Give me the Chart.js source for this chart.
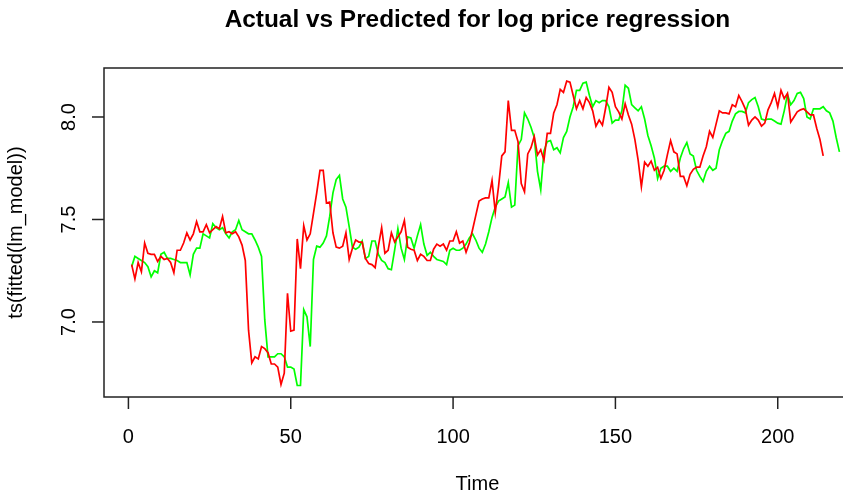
<!DOCTYPE html>
<html>
<head>
<meta charset="utf-8">
<script src="https://cdn.jsdelivr.net/npm/chart.js@4/dist/chart.umd.min.js"></script>
<style>
  html, body { margin: 0; padding: 0; background: #fff; }
  #wrap { width: 843px; height: 498px; }
</style>
</head>
<body>
<div id="wrap"><canvas id="c" width="843" height="498"></canvas></div>
<script>
// valeurs (t = 1, 2, 3, ...)
const actual = [
  7.28, 7.21, 7.29, 7.245, 7.385, 7.335, 7.33, 7.33, 7.295, 7.32,
  7.305, 7.31, 7.29, 7.24, 7.35, 7.35, 7.385, 7.435, 7.40, 7.43,
  7.49, 7.44, 7.44, 7.475, 7.435, 7.45, 7.465, 7.455, 7.515, 7.435,
  7.44, 7.43, 7.44, 7.415, 7.375, 7.30, 6.96, 6.80, 6.83, 6.82,
  6.88, 6.87, 6.85, 6.795, 6.795, 6.78, 6.695, 6.75, 7.14, 6.955,
  6.96, 7.405, 7.26, 7.47, 7.40, 7.43, 7.53, 7.63, 7.74, 7.74,
  7.58, 7.585, 7.435, 7.365, 7.36, 7.37, 7.435, 7.305, 7.36, 7.40,
  7.39, 7.39, 7.31, 7.285, 7.28, 7.265, 7.37, 7.46, 7.335, 7.35,
  7.435, 7.39, 7.415, 7.44, 7.495, 7.365, 7.355, 7.35, 7.30, 7.33,
  7.32, 7.30, 7.30, 7.355, 7.38, 7.37, 7.38, 7.35, 7.395, 7.395,
  7.44, 7.385, 7.395, 7.34, 7.385, 7.45, 7.52, 7.59, 7.60, 7.605,
  7.605, 7.69, 7.535, 7.66, 7.81, 7.83, 8.08, 7.935, 7.935, 7.88,
  7.675, 7.635, 7.82, 7.85, 7.905, 7.815, 7.84, 7.79, 7.92, 7.92,
  8.02, 8.06, 8.135, 8.12, 8.175, 8.17, 8.105, 8.04, 8.08, 8.04,
  8.095, 8.07, 8.03, 7.955, 7.985, 7.96, 8.045, 8.145, 8.12, 8.05,
  8.025, 7.99, 8.065, 8.01, 7.965, 7.89, 7.79, 7.66, 7.78, 7.76,
  7.785, 7.74, 7.755, 7.70, 7.74, 7.815, 7.885, 7.83, 7.82, 7.71,
  7.71, 7.665, 7.72, 7.745, 7.755, 7.755, 7.81, 7.855, 7.93, 7.90,
  7.965, 8.03, 8.02, 8.02, 8.015, 8.06, 8.05, 8.105, 8.075, 8.04,
  7.96, 7.985, 8.0, 7.985, 7.955, 7.97, 8.035, 8.07, 8.115, 8.05,
  8.13, 8.09, 8.115, 7.975, 8.0, 8.025, 8.035, 8.04, 8.025, 8.01,
  8.01, 7.945, 7.89, 7.81
];

const predicted = [
  7.27, 7.32, 7.31, 7.30, 7.29, 7.27, 7.22, 7.25, 7.24, 7.33,
  7.34, 7.31, 7.31, 7.305, 7.30, 7.29, 7.29, 7.29, 7.23, 7.33,
  7.36, 7.36, 7.43, 7.42, 7.41, 7.48, 7.46, 7.45, 7.46, 7.43,
  7.41, 7.44, 7.45, 7.495, 7.45, 7.44, 7.43, 7.43, 7.40, 7.365,
  7.32, 7.01, 6.83, 6.83, 6.83, 6.845, 6.845, 6.83, 6.78, 6.78,
  6.77, 6.69, 6.69, 7.06, 7.025, 6.88, 7.305, 7.37, 7.365, 7.385,
  7.42, 7.515, 7.63, 7.695, 7.715, 7.60, 7.56, 7.465, 7.365, 7.355,
  7.365, 7.395, 7.31, 7.32, 7.395, 7.395, 7.33, 7.30, 7.29, 7.26,
  7.255, 7.35, 7.455, 7.36, 7.305, 7.415, 7.41, 7.36, 7.42, 7.475,
  7.38, 7.325, 7.34, 7.32, 7.305, 7.30, 7.295, 7.28, 7.35, 7.36,
  7.35, 7.35, 7.36, 7.38, 7.41, 7.43, 7.40, 7.36, 7.34, 7.38,
  7.44, 7.51, 7.56, 7.59, 7.60, 7.61, 7.68, 7.56, 7.57, 7.86,
  7.89, 8.02, 7.99, 7.95, 7.90, 7.735, 7.645, 7.835, 7.88, 7.885,
  7.84, 7.85, 7.825, 7.90, 7.93, 8.0, 8.05, 8.13, 8.13, 8.165,
  8.17, 8.105, 8.05, 8.08, 8.07, 8.08, 8.08, 8.05, 7.97, 7.985,
  7.985, 8.03, 8.155, 8.14, 8.06, 8.045, 8.03, 8.05, 7.99, 7.91,
  7.86, 7.80, 7.70, 7.75, 7.76, 7.76, 7.735, 7.75, 7.735, 7.80,
  7.845, 7.875, 7.82, 7.81, 7.74, 7.71, 7.685, 7.735, 7.76, 7.74,
  7.75, 7.84, 7.885, 7.92, 7.93, 7.98, 8.015, 8.027, 8.027, 8.02,
  8.07, 8.085, 8.095, 8.05, 7.99, 7.985, 7.99, 7.99, 7.98, 7.97,
  7.965, 8.03, 8.11, 8.06, 8.08, 8.115, 8.12, 8.09, 8.0, 7.99,
  8.04, 8.04, 8.04, 8.05, 8.03, 8.02, 7.98, 7.90, 7.83
];

const xTicks = [0, 50, 100, 150, 200];
const yTicks = [7.0, 7.5, 8.0];
const yTickLabels = ["7.0", "7.5", "8.0"];

const titre = "Actual vs Predicted for log price regression";
const xTitre = "Time";
const yTitre = "ts(fitted(lm_model))";

const toPoints = arr => arr.map((v, i) => ({ x: i + 1, y: v }));

// axes façon R (boîte, ticks vers l'extérieur, étiquettes tournées)
const axesR = {
  id: "axesR",
  afterDraw(chart) {
    const ctx = chart.ctx;
    const a = chart.chartArea;
    const sx = chart.scales.x;
    const sy = chart.scales.y;
    const right = sx.getPixelForValue(222.52); // la boîte dépasse à droite

    ctx.save();
    ctx.strokeStyle = "#222";
    ctx.lineWidth = 1.5;
    ctx.strokeRect(a.left, a.top, right - a.left, a.bottom - a.top);

    ctx.fillStyle = "#000";
    ctx.font = "20px 'Liberation Sans', Arial, sans-serif";

    // x
    ctx.textAlign = "center";
    ctx.textBaseline = "alphabetic";
    for (const t of xTicks) {
      const px = sx.getPixelForValue(t);
      ctx.beginPath();
      ctx.moveTo(px, a.bottom);
      ctx.lineTo(px, a.bottom + 12);
      ctx.stroke();
      ctx.fillText(String(t), px, 443);
    }
    ctx.fillText(xTitre, (a.left + right) / 2, 490);

    // y
    yTicks.forEach((t, i) => {
      const py = sy.getPixelForValue(t);
      ctx.beginPath();
      ctx.moveTo(a.left, py);
      ctx.lineTo(a.left - 12, py);
      ctx.stroke();
      ctx.save();
      ctx.translate(75, py);
      ctx.rotate(-Math.PI / 2);
      ctx.fillText(yTickLabels[i], 0, 0);
      ctx.restore();
    });
    ctx.save();
    ctx.translate(22, (a.top + a.bottom) / 2);
    ctx.rotate(-Math.PI / 2);
    ctx.fillText(yTitre, 0, 0);
    ctx.restore();

    // titre
    ctx.font = "bold 24.4px 'Liberation Sans', Arial, sans-serif";
    ctx.fillText(titre, (a.left + right) / 2, 27);
    ctx.restore();
  }
};

new Chart(document.getElementById("c").getContext("2d"), {
  type: "line",
  data: {
    datasets: [
      {
        label: "actual",
        data: toPoints(actual),
        borderColor: "#ff0000",
        borderWidth: 1.7,
        tension: 0,
        pointRadius: 0,
        fill: false
      },
      {
        label: "predicted",
        data: toPoints(predicted),
        borderColor: "#00ff00",
        borderWidth: 1.7,
        tension: 0,
        pointRadius: 0,
        fill: false
      }
    ]
  },
  options: {
    responsive: false,
    animation: false,
    devicePixelRatio: 1,
    layout: { padding: { left: 104, top: 68, right: 0, bottom: 101 } },
    plugins: {
      legend: { display: false },
      title: { display: false },
      tooltip: { enabled: false }
    },
    scales: {
      x: { type: "linear", display: false, min: -7.52, max: 220.1 },
      y: { type: "linear", display: false, min: 6.634, max: 8.239 }
    }
  },
  plugins: [axesR]
});
</script>
</body>
</html>
